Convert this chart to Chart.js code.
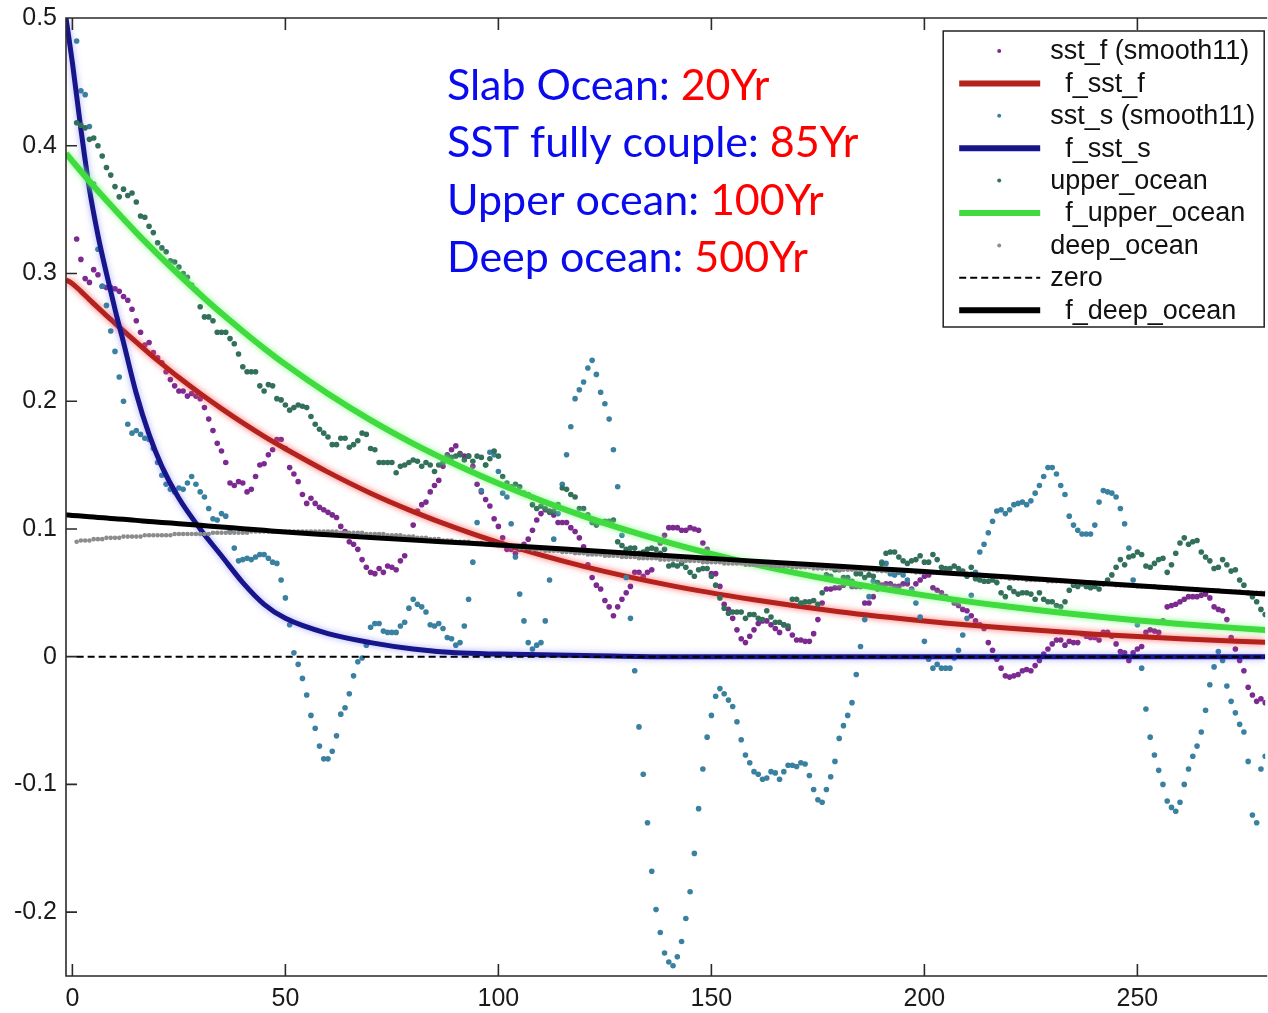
<!DOCTYPE html>
<html>
<head>
<meta charset="utf-8">
<title>Ocean response fits</title>
<script src="https://cdn.jsdelivr.net/npm/chart.js@4.4.1/dist/chart.umd.min.js"></script>
<style>
    html, body { margin: 0; padding: 0; background: #fff; }
    canvas { display: block; }
</style>
</head>
<body>
<canvas id="chart" width="1268" height="1013"></canvas>
<script>
// yearly samples (11-year smoothed), year 1..280
const years = Array.from({ length: 280 }, (_, i) => i + 1);

const sstF = [
    0.327, 0.311, 0.296, 0.293, 0.303, 0.299, 0.290, 0.289, 0.289, 0.288,
    0.286, 0.282, 0.279, 0.272, 0.263, 0.254, 0.244, 0.246, 0.238, 0.234,
    0.230, 0.223, 0.217, 0.212, 0.208, 0.208, 0.204, 0.206, 0.204, 0.202,
    0.195, 0.186, 0.177, 0.167, 0.161, 0.152, 0.136, 0.134, 0.137, 0.136,
    0.129, 0.131, 0.141, 0.150, 0.151, 0.158, 0.162, 0.170, 0.170, 0.163,
    0.148, 0.143, 0.137, 0.127, 0.120, 0.124, 0.120, 0.117, 0.115, 0.113,
    0.111, 0.109, 0.102, 0.098, 0.090, 0.088, 0.084, 0.076, 0.070, 0.066,
    0.065, 0.069, 0.066, 0.071, 0.070, 0.068, 0.075, 0.079, 0.092, 0.103,
    0.114, 0.119, 0.121, 0.129, 0.134, 0.138, 0.149, 0.158, 0.162, 0.165,
    0.159, 0.157, 0.157, 0.149, 0.135, 0.129, 0.123, 0.118, 0.108, 0.102,
    0.093, 0.084, 0.084, 0.081, 0.084, 0.088, 0.092, 0.099, 0.107, 0.112,
    0.115, 0.114, 0.111, 0.105, 0.105, 0.105, 0.101, 0.098, 0.093, 0.086,
    0.072, 0.062, 0.056, 0.053, 0.044, 0.039, 0.032, 0.039, 0.045, 0.050,
    0.055, 0.066, 0.066, 0.063, 0.066, 0.068, 0.079, 0.089, 0.095, 0.101,
    0.101, 0.101, 0.099, 0.099, 0.101, 0.100, 0.099, 0.089, 0.084, 0.065,
    0.065, 0.055, 0.041, 0.037, 0.030, 0.021, 0.014, 0.011, 0.016, 0.021,
    0.026, 0.028, 0.028, 0.025, 0.022, 0.019, 0.025, 0.022, 0.017, 0.013,
    0.013, 0.012, 0.012, 0.018, 0.029, 0.042, 0.053, 0.053, 0.054, 0.054,
    0.056, 0.059, 0.055, 0.055, 0.055, 0.042, 0.042, 0.047, 0.053, 0.056,
    0.057, 0.057, 0.055, 0.055, 0.057, 0.057, 0.053, 0.057, 0.060, 0.063,
    0.064, 0.054, 0.052, 0.050, 0.047, 0.045, 0.042, 0.040, 0.037, 0.036,
    0.032, 0.028, 0.025, 0.022, 0.011, 0.005, -0.002, -0.009, -0.015, -0.016,
    -0.015, -0.014, -0.011, -0.010, -0.011, -0.007, -0.003, 0.002, 0.006, 0.010,
    0.013, 0.013, 0.009, 0.012, 0.011, 0.011, 0.018, 0.016, 0.015, 0.015,
    0.013, 0.019, 0.019, 0.016, 0.010, 0.004, 0.003, -0.003, 0.003, 0.006,
    0.008, 0.019, 0.021, 0.020, 0.019, 0.028, 0.039, 0.040, 0.041, 0.043,
    0.045, 0.047, 0.047, 0.047, 0.048, 0.049, 0.046, 0.039, 0.037, 0.036,
    0.029, 0.015, 0.006, -0.003, -0.011, -0.024, -0.030, -0.035, -0.033, -0.036,
];

const sstS = [
    0.482, 0.443, 0.440, 0.415, 0.370, 0.319, 0.290, 0.275, 0.255, 0.239,
    0.219, 0.200, 0.182, 0.175, 0.177, 0.174, 0.171, 0.170, 0.163, 0.152,
    0.142, 0.135, 0.131, 0.129, 0.132, 0.131, 0.136, 0.141, 0.135, 0.129,
    0.125, 0.116, 0.108, 0.107, 0.112, 0.110, 0.098, 0.085, 0.075, 0.076,
    0.077, 0.076, 0.078, 0.080, 0.080, 0.077, 0.074, 0.073, 0.060, 0.046,
    0.025, 0.003, -0.006, -0.017, -0.030, -0.046, -0.056, -0.070, -0.080, -0.080,
    -0.074, -0.062, -0.045, -0.040, -0.029, -0.015, -0.004, -0.001, 0.009, 0.023,
    0.026, 0.026, 0.020, 0.019, 0.019, 0.019, 0.024, 0.027, 0.038, 0.045,
    0.041, 0.039, 0.035, 0.025, 0.024, 0.026, 0.022, 0.015, 0.014, 0.009,
    0.011, 0.024, 0.045, 0.074, 0.105, 0.130, 0.150, 0.160, 0.158, 0.145,
    0.128, 0.125, 0.104, 0.078, 0.049, 0.028, 0.011, 0.006, 0.009, 0.011,
    0.028, 0.060, 0.092, 0.112, 0.135, 0.158, 0.180, 0.202, 0.209, 0.215,
    0.226, 0.232, 0.221, 0.207, 0.198, 0.186, 0.162, 0.133, 0.095, 0.062,
    0.030, -0.011, -0.055, -0.092, -0.130, -0.168, -0.198, -0.216, -0.232, -0.239,
    -0.242, -0.235, -0.223, -0.205, -0.184, -0.154, -0.119, -0.088, -0.063, -0.046,
    -0.031, -0.025, -0.029, -0.034, -0.039, -0.051, -0.065, -0.077, -0.083, -0.090,
    -0.092, -0.096, -0.095, -0.090, -0.091, -0.096, -0.090, -0.085, -0.085, -0.086,
    -0.083, -0.084, -0.093, -0.104, -0.112, -0.114, -0.104, -0.094, -0.082, -0.064,
    -0.054, -0.046, -0.036, -0.014, 0.008, 0.029, 0.047, 0.059, 0.068, 0.074,
    0.073, 0.065, 0.064, 0.066, 0.064, 0.060, 0.052, 0.042, 0.031, 0.012,
    -0.002, -0.009, -0.006, -0.009, -0.009, -0.009, -0.001, 0.005, 0.017, 0.030,
    0.048, 0.066, 0.082, 0.088, 0.097, 0.106, 0.114, 0.115, 0.112, 0.115,
    0.119, 0.120, 0.121, 0.119, 0.122, 0.128, 0.134, 0.141, 0.148, 0.148,
    0.143, 0.134, 0.127, 0.110, 0.103, 0.099, 0.096, 0.096, 0.096, 0.103,
    0.121, 0.130, 0.129, 0.128, 0.125, 0.116, 0.104, 0.085, 0.060, 0.025,
    -0.009, -0.041, -0.063, -0.077, -0.089, -0.100, -0.113, -0.118, -0.121, -0.114,
    -0.100, -0.088, -0.078, -0.070, -0.059, -0.042, -0.022, -0.008, 0.004, -0.003,
    -0.023, -0.035, -0.044, -0.053, -0.059, -0.082, -0.124, -0.130, -0.088, -0.078,
];

const upperOcean = [
    0.418, 0.416, 0.414, 0.405, 0.406, 0.400, 0.392, 0.383, 0.377, 0.368,
    0.360, 0.366, 0.361, 0.363, 0.356, 0.345, 0.344, 0.337, 0.332, 0.324,
    0.320, 0.317, 0.310, 0.309, 0.305, 0.300, 0.297, 0.291, 0.287, 0.274,
    0.266, 0.266, 0.263, 0.254, 0.254, 0.254, 0.249, 0.245, 0.237, 0.227,
    0.223, 0.223, 0.223, 0.212, 0.208, 0.213, 0.212, 0.202, 0.201, 0.197,
    0.193, 0.195, 0.197, 0.196, 0.195, 0.188, 0.182, 0.178, 0.175, 0.172,
    0.166, 0.166, 0.171, 0.171, 0.164, 0.166, 0.169, 0.175, 0.174, 0.163,
    0.162, 0.152, 0.152, 0.152, 0.152, 0.144, 0.149, 0.150, 0.152, 0.154,
    0.153, 0.149, 0.152, 0.150, 0.145, 0.150, 0.152, 0.157, 0.156, 0.157,
    0.158, 0.154, 0.157, 0.153, 0.157, 0.156, 0.150, 0.155, 0.161, 0.157,
    0.141, 0.136, 0.133, 0.135, 0.133, 0.128, 0.127, 0.119, 0.116, 0.118,
    0.116, 0.113, 0.114, 0.119, 0.132, 0.131, 0.127, 0.125, 0.116, 0.116,
    0.111, 0.105, 0.103, 0.105, 0.106, 0.106, 0.107, 0.090, 0.087, 0.084,
    0.085, 0.085, 0.081, 0.082, 0.084, 0.085, 0.084, 0.081, 0.084, 0.071,
    0.072, 0.071, 0.073, 0.070, 0.066, 0.063, 0.068, 0.069, 0.069, 0.063,
    0.056, 0.046, 0.038, 0.034, 0.035, 0.035, 0.035, 0.030, 0.033, 0.033,
    0.030, 0.029, 0.036, 0.031, 0.027, 0.027, 0.025, 0.024, 0.045, 0.045,
    0.042, 0.043, 0.043, 0.044, 0.041, 0.050, 0.064, 0.063, 0.068, 0.068,
    0.062, 0.062, 0.059, 0.065, 0.065, 0.062, 0.064, 0.063, 0.058, 0.073,
    0.081, 0.082, 0.082, 0.078, 0.075, 0.073, 0.075, 0.076, 0.079, 0.074,
    0.074, 0.080, 0.076, 0.070, 0.069, 0.069, 0.071, 0.069, 0.067, 0.063,
    0.070, 0.061, 0.060, 0.059, 0.059, 0.060, 0.058, 0.050, 0.047, 0.054,
    0.051, 0.049, 0.050, 0.050, 0.049, 0.045, 0.050, 0.045, 0.043, 0.043,
    0.040, 0.039, 0.043, 0.052, 0.056, 0.055, 0.057, 0.055, 0.054, 0.055,
    0.053, 0.057, 0.060, 0.064, 0.070, 0.076, 0.072, 0.078, 0.079, 0.082,
    0.080, 0.071, 0.070, 0.073, 0.076, 0.077, 0.066, 0.072, 0.081, 0.089,
    0.093, 0.088, 0.090, 0.091, 0.082, 0.078, 0.075, 0.069, 0.070, 0.076,
    0.072, 0.067, 0.068, 0.060, 0.056, 0.050, 0.047, 0.043, 0.037, 0.033,
];

const deepOcean = [
    0.090, 0.091, 0.091, 0.091, 0.092, 0.092, 0.092, 0.093, 0.093, 0.093,
    0.093, 0.094, 0.094, 0.094, 0.094, 0.094, 0.095, 0.095, 0.095, 0.095,
    0.095, 0.095, 0.095, 0.096, 0.096, 0.096, 0.096, 0.096, 0.096, 0.096,
    0.096, 0.096, 0.097, 0.097, 0.097, 0.097, 0.097, 0.097, 0.097, 0.097,
    0.097, 0.098, 0.098, 0.098, 0.098, 0.098, 0.098, 0.098, 0.098, 0.098,
    0.098, 0.098, 0.098, 0.098, 0.098, 0.098, 0.098, 0.098, 0.098, 0.098,
    0.098, 0.098, 0.097, 0.097, 0.097, 0.097, 0.097, 0.097, 0.096, 0.096,
    0.096, 0.096, 0.096, 0.095, 0.095, 0.095, 0.095, 0.094, 0.094, 0.094,
    0.093, 0.093, 0.093, 0.092, 0.092, 0.092, 0.091, 0.091, 0.091, 0.090,
    0.090, 0.090, 0.090, 0.089, 0.089, 0.089, 0.088, 0.088, 0.088, 0.087,
    0.087, 0.087, 0.086, 0.086, 0.085, 0.085, 0.085, 0.084, 0.084, 0.084,
    0.083, 0.083, 0.083, 0.083, 0.082, 0.082, 0.082, 0.081, 0.081, 0.081,
    0.080, 0.080, 0.080, 0.080, 0.079, 0.079, 0.079, 0.079, 0.078, 0.078,
    0.078, 0.078, 0.077, 0.077, 0.077, 0.077, 0.077, 0.076, 0.076, 0.076,
    0.076, 0.076, 0.075, 0.075, 0.075, 0.075, 0.075, 0.074, 0.074, 0.074,
    0.074, 0.074, 0.073, 0.073, 0.073, 0.073, 0.073, 0.072, 0.072, 0.072,
    0.072, 0.072, 0.072, 0.071, 0.071, 0.071, 0.071, 0.071, 0.070, 0.070,
    0.070, 0.070, 0.070, 0.069, 0.069, 0.069, 0.069, 0.069, 0.069, 0.068,
    0.068, 0.068, 0.068, 0.068, 0.068, 0.068, 0.068, 0.068, 0.068, 0.067,
    0.067, 0.067, 0.067, 0.067, 0.067, 0.067, 0.067, 0.066, 0.066, 0.066,
    0.066, 0.066, 0.066, 0.066, 0.066, 0.066, 0.065, 0.065, 0.065, 0.065,
    0.065, 0.064, 0.064, 0.063, 0.063, 0.063, 0.062, 0.062, 0.062, 0.061,
    0.061, 0.061, 0.061, 0.060, 0.060, 0.060, 0.060, 0.060, 0.059, 0.059,
    0.059, 0.059, 0.059, 0.059, 0.058, 0.058, 0.058, 0.058, 0.058, 0.058,
    0.057, 0.057, 0.057, 0.057, 0.056, 0.056, 0.056, 0.056, 0.056, 0.055,
    0.055, 0.055, 0.055, 0.055, 0.054, 0.054, 0.054, 0.054, 0.054, 0.053,
    0.053, 0.053, 0.053, 0.053, 0.052, 0.052, 0.052, 0.052, 0.052, 0.051,
    0.051, 0.051, 0.051, 0.051, 0.050, 0.050, 0.050, 0.050, 0.050, 0.050,
];

// fitted exponential curves, read at these years
const fitYears = [-1.5, 0, 2, 4, 6, 8, 10, 12, 15, 18, 21, 25, 30, 35, 40, 45, 50,
    60, 70, 80, 90, 100, 120, 140, 160, 180, 200, 220, 240, 260, 280];

const fitSstF = [0.2950, 0.2920, 0.2860, 0.2795, 0.2732, 0.2670, 0.2610, 0.2550, 0.2462,
    0.2375, 0.2292, 0.2185, 0.2060, 0.1942, 0.1830, 0.1725, 0.1628, 0.1445, 0.1280,
    0.1136, 0.1008, 0.0895, 0.0707, 0.0560, 0.0445, 0.0352, 0.0280, 0.0222, 0.0176,
    0.0140, 0.0112];

const fitSstS = [0.5000, 0.4650, 0.4130, 0.3660, 0.3300, 0.3000, 0.2720, 0.2460, 0.2060,
    0.1740, 0.1490, 0.1240, 0.1000, 0.0790, 0.0580, 0.0410, 0.0300, 0.0180, 0.0110,
    0.0060, 0.0030, 0.0020, 0.0010, 0.0000, 0.0000, 0.0000, 0.0000, 0.0000, 0.0000,
    0.0000, 0.0000];

const fitUpper = [0.3940, 0.3880, 0.3800, 0.3722, 0.3646, 0.3572, 0.3498, 0.3426, 0.3320,
    0.3218, 0.3118, 0.2990, 0.2836, 0.2688, 0.2548, 0.2414, 0.2288, 0.2058, 0.1852,
    0.1668, 0.1504, 0.1356, 0.1100, 0.0893, 0.0725, 0.0590, 0.0480, 0.0390, 0.0316,
    0.0256, 0.0208];

const fitDeep = [0.1110, 0.1106, 0.1101, 0.1096, 0.1090, 0.1085, 0.1080, 0.1075, 0.1067,
    0.1059, 0.1051, 0.1041, 0.1028, 0.1015, 0.1002, 0.0989, 0.0976, 0.0954, 0.0933,
    0.0913, 0.0894, 0.0875, 0.0833, 0.0790, 0.0748, 0.0707, 0.0666, 0.0624, 0.0577,
    0.0533, 0.0490];

const zeroYears = [1, 280];
const zeroValues = [0, 0];

const xTicks = [0, 50, 100, 150, 200, 250];
const yTicks = [-0.2, -0.1, 0, 0.1, 0.2, 0.3, 0.4, 0.5];

const timescales = [
    ['Slab Ocean: ', '20Yr'],
    ['SST fully couple: ', '85Yr'],
    ['Upper ocean: ', '100Yr'],
    ['Deep ocean: ', '500Yr'],
];

const toPoints = (xs, ys) => xs.map((x, i) => ({ x, y: ys[i] }));

const dots = (label, values, color, radius) => ({
    type: 'scatter',
    label,
    data: toPoints(years, values),
    backgroundColor: color,
    borderColor: color,
    pointRadius: radius,
    pointBorderWidth: 0,
    pointHoverRadius: radius,
    showLine: false,
});

const curve = (label, xs, values, color, width, extra = {}) => ({
    type: 'line',
    label,
    data: toPoints(xs, values),
    borderColor: color,
    backgroundColor: color,
    borderWidth: width,
    pointRadius: 0,
    pointHoverRadius: 0,
    fill: false,
    showLine: true,
    cubicInterpolationMode: 'monotone',
    legendWidth: 6,
    ...extra,
});

const datasets = [
    dots('sst_f (smooth11)', sstF, '#7d2a90', 2.8),
    curve('  f_sst_f', fitYears, fitSstF, '#b3221d', 5, { glow: 'rgba(255, 90, 90, 0.9)' }),
    dots('sst_s (smooth11)', sstS, '#3a80a0', 2.8),
    curve('  f_sst_s', fitYears, fitSstS, '#16168a', 5, { glow: 'rgba(90, 90, 255, 0.5)' }),
    dots('upper_ocean', upperOcean, '#32705a', 2.8),
    curve('  f_upper_ocean', fitYears, fitUpper, '#3fdb3f', 6, { glow: 'rgba(140, 255, 140, 0.9)' }),
    dots('deep_ocean', deepOcean, '#8c8c8c', 2.3),
    curve('zero', zeroYears, zeroValues, '#000000', 2, { borderDash: [7, 4], legendWidth: 2, cubicInterpolationMode: 'default' }),
    curve('  f_deep_ocean', fitYears, fitDeep, '#000000', 5),
];

// later entries are painted on top, like the plotting order of the legend
datasets.forEach((ds, i) => { ds.order = datasets.length - i; });

const tickFont = { family: '"Liberation Sans", Arial, sans-serif', size: 25 };

// keep the plot box where the layout puts it, labels may overhang
const noLabelPadding = (scale) => {
    scale.paddingTop = 0;
    scale.paddingBottom = 0;
    scale.paddingLeft = 0;
    scale.paddingRight = 0;
};

const glowLines = {
    id: 'glowLines',
    beforeDatasetDraw(chart, args) {
        const ds = chart.data.datasets[args.index];
        if (!ds.glow) return;
        chart.ctx.save();
        chart.ctx.shadowColor = ds.glow;
        chart.ctx.shadowBlur = 6;
    },
    afterDatasetDraw(chart, args) {
        if (chart.data.datasets[args.index].glow) chart.ctx.restore();
    },
};

// box frame with inward tick marks on left, bottom and top
const frame = {
    id: 'frame',
    afterDatasetsDraw(chart) {
        const { ctx, chartArea: a, scales: { x, y } } = chart;
        ctx.save();
        ctx.strokeStyle = '#2a2a2a';
        ctx.lineWidth = 1.6;
        ctx.beginPath();
        ctx.moveTo(a.right + 2, a.top);
        ctx.lineTo(a.left, a.top);
        ctx.lineTo(a.left, a.bottom);
        ctx.lineTo(a.right + 2, a.bottom);
        xTicks.forEach((v) => {
            const px = x.getPixelForValue(v);
            ctx.moveTo(px, a.bottom);
            ctx.lineTo(px, a.bottom - 12);
            ctx.moveTo(px, a.top);
            ctx.lineTo(px, a.top + 12);
        });
        yTicks.forEach((v) => {
            const py = y.getPixelForValue(v);
            ctx.moveTo(a.left, py);
            ctx.lineTo(a.left + 11, py);
        });
        ctx.stroke();
        ctx.restore();
    },
};

const notes = {
    id: 'notes',
    afterDatasetsDraw(chart) {
        const { ctx } = chart;
        ctx.save();
        ctx.font = '43px Lato, "Open Sans", sans-serif';
        ctx.textBaseline = 'alphabetic';
        timescales.forEach(([name, span], i) => {
            const left = 447;
            const base = 100 + i * 57.3;
            ctx.fillStyle = '#0a0aee';
            ctx.fillText(name, left, base);
            ctx.fillStyle = '#ff0000';
            ctx.fillText(span, left + ctx.measureText(name).width, base);
        });
        ctx.restore();
    },
};

const legendBox = {
    id: 'legendBox',
    afterDraw(chart) {
        const { ctx, chartArea: a } = chart;
        const left = a.right - 322;
        const top = a.top + 13;
        ctx.save();
        ctx.fillStyle = '#ffffff';
        ctx.fillRect(left, top, 321, 296);
        ctx.strokeStyle = '#222222';
        ctx.lineWidth = 1.5;
        ctx.strokeRect(left, top, 321, 296);
        ctx.font = '27px "Liberation Sans", Arial, sans-serif';
        ctx.textBaseline = 'middle';
        chart.data.datasets.forEach((ds, i) => {
            const cy = top + 20 + i * 32.4;
            if (ds.showLine) {
                ctx.strokeStyle = ds.borderColor;
                ctx.lineWidth = ds.legendWidth;
                ctx.setLineDash(ds.borderDash || []);
                ctx.beginPath();
                ctx.moveTo(left + 16, cy);
                ctx.lineTo(left + 97, cy);
                ctx.stroke();
                ctx.setLineDash([]);
            } else {
                ctx.fillStyle = ds.backgroundColor;
                ctx.beginPath();
                ctx.arc(left + 56, cy, 2, 0, Math.PI * 2);
                ctx.fill();
            }
            ctx.fillStyle = '#111111';
            ctx.fillText(ds.label, left + 107, cy + 1);
        });
        ctx.restore();
    },
};

new Chart(document.getElementById('chart'), {
    type: 'scatter',
    data: { datasets },
    options: {
        responsive: false,
        animation: false,
        events: [],
        layout: { padding: { top: 18, right: 0, bottom: 0, left: 0 } },
        plugins: {
            legend: { display: false },
            tooltip: { enabled: false },
        },
        scales: {
            x: {
                type: 'linear',
                min: -1.5,
                max: 280,
                afterFit: (scale) => { scale.height = 37; noLabelPadding(scale); },
                afterBuildTicks: (scale) => { scale.ticks = xTicks.map((value) => ({ value })); },
                grid: { display: false, drawTicks: false },
                border: { display: false },
                ticks: { font: tickFont, color: '#1a1a1a', padding: 8, maxRotation: 0 },
            },
            y: {
                type: 'linear',
                min: -0.25,
                max: 0.5,
                afterFit: (scale) => { scale.width = 66; noLabelPadding(scale); },
                afterBuildTicks: (scale) => { scale.ticks = yTicks.map((value) => ({ value })); },
                grid: { display: false, drawTicks: false },
                border: { display: false },
                ticks: {
                    font: tickFont,
                    color: '#1a1a1a',
                    padding: 9,
                    callback: (value) => String(Math.round(value * 10) / 10),
                },
            },
        },
    },
    plugins: [glowLines, frame, notes, legendBox],
});
</script>
</body>
</html>
